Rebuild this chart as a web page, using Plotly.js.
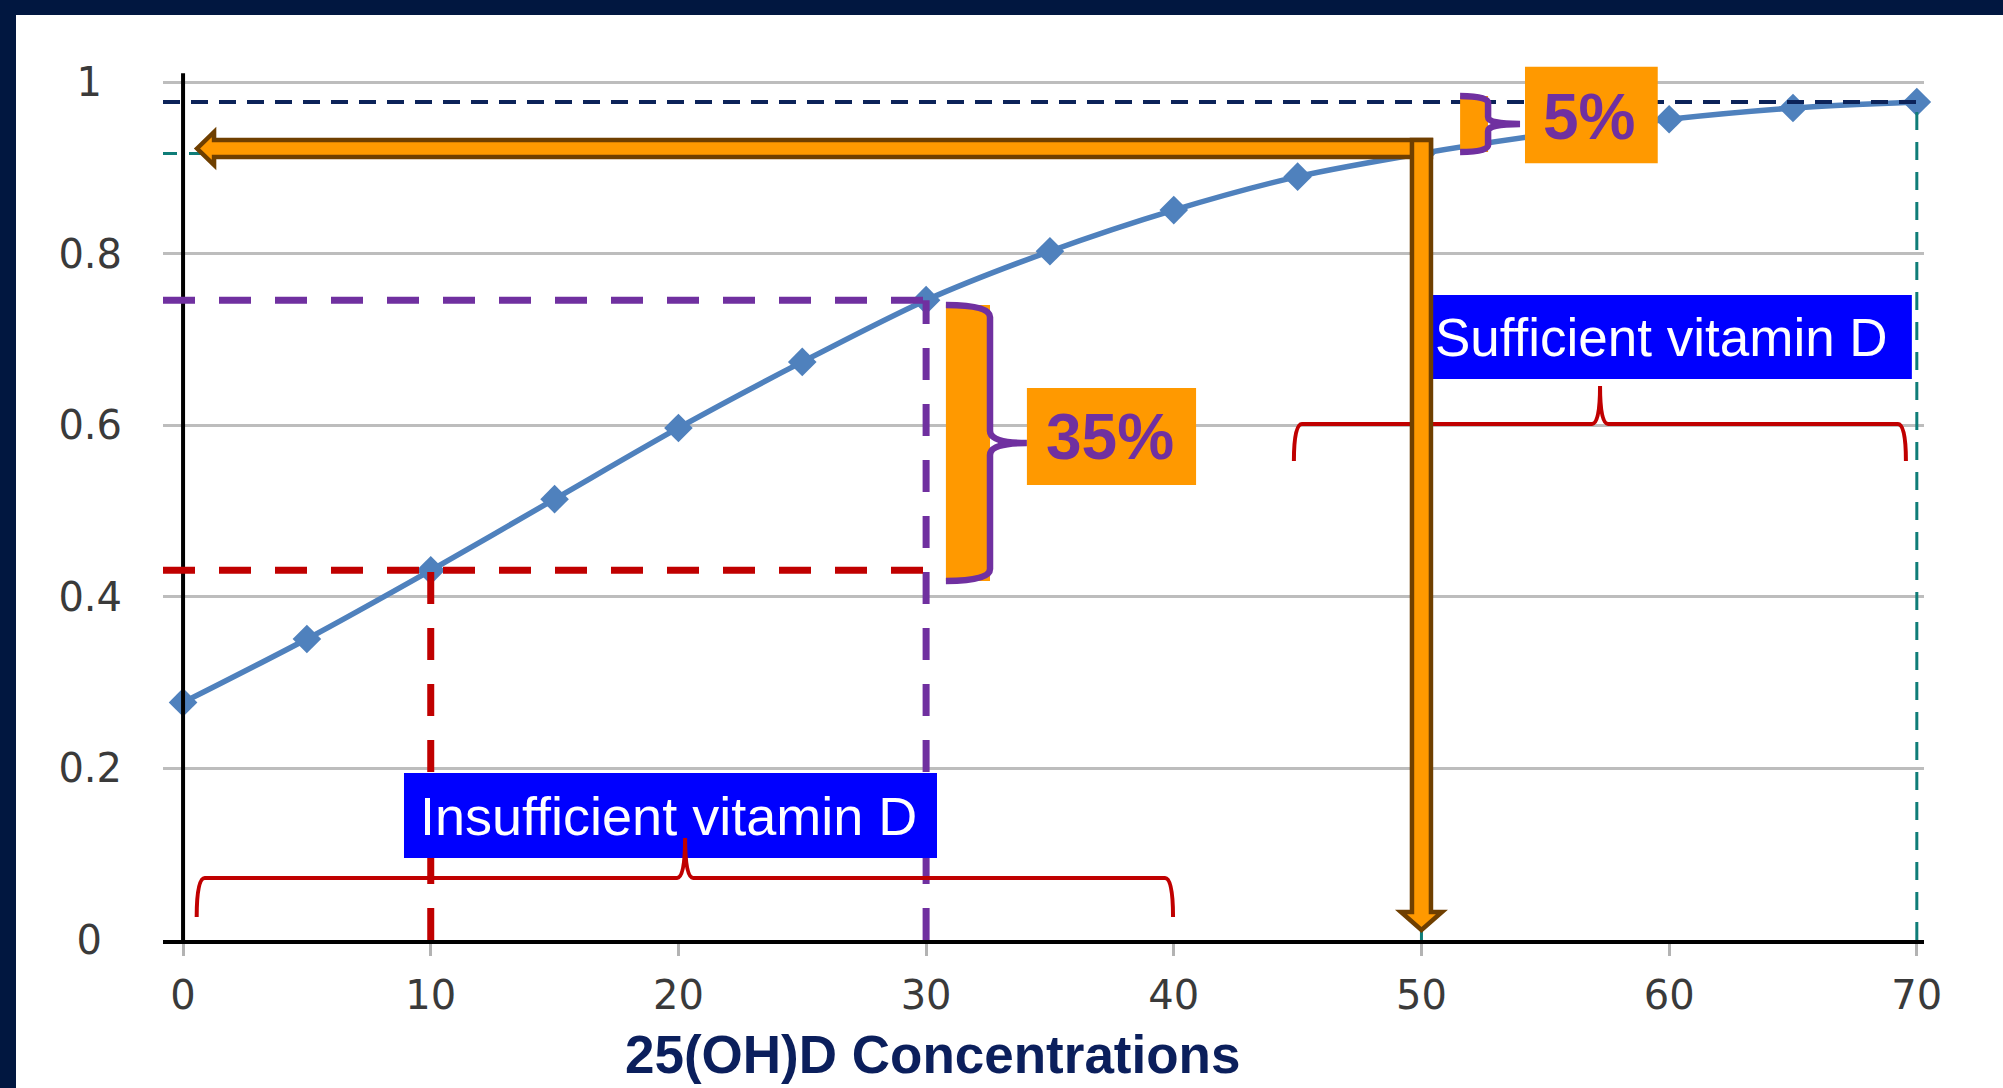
<!DOCTYPE html>
<html><head><meta charset="utf-8">
<script src="https://cdn.plot.ly/plotly-3.0.1.min.js"></script>
<style>
html,body{margin:0;padding:0;background:#011740;width:2003px;height:1088px;overflow:hidden;}
#chart{position:absolute;left:16px;top:15px;width:1987px;height:1073px;background:#fff;}
</style></head><body><div id="chart"></div>
<script>
// ---- data ----
const concentration = [0, 5, 10, 15, 20, 25, 30, 35, 40, 45, 50, 55, 60, 65, 70];
const probability   = [0.277, 0.351, 0.431, 0.514, 0.597, 0.674, 0.746, 0.803, 0.851, 0.890, 0.917, 0.939, 0.957, 0.970, 0.977];
const xTickValues = [0, 10, 20, 30, 40, 50, 60, 70];
const yTickValues = [0, 0.2, 0.4, 0.6, 0.8, 1];
const yTickLabels = ['0', '0.2', '0.4', '0.6', '0.8', '1'];
const cutLow = 10, cutMid = 30, cutHigh = 50, cutMax = 70;
const xTitle = '25(OH)D Concentrations';
const insufficientLabel = 'Insufficient vitamin D';
const sufficientLabel = 'Sufficient vitamin D';
const gapLowLabel = '35%';
const gapHighLabel = '5%';

// ---- geometry ----
const X0 = -0.81, X1 = 70.29, Y0 = 0, Y1 = 1.04;
const plotW = 1761, plotH = 892;
const dx = p => p * (X1 - X0) / plotW;
const dy = p => p * (Y1 - Y0) / plotH;
const yAt = x => probability[concentration.indexOf(x)];
const y10 = yAt(cutLow), y30 = yAt(cutMid), y50 = yAt(cutHigh), y70 = yAt(cutMax);

const C = {
  navy: '#0c2359', purple: '#7030a0', red: '#c00000', teal: '#0f7d78',
  orange: '#ff9900', brown: '#6f3f00', blue: '#0000ff', line: '#4f81bd'
};

function seg(x0, y0, x1, y1, color, width, dash) {
  return {type: 'line', xref: 'x', yref: 'y', x0, y0, x1, y1, line: {color, width, dash: dash || 'solid'}};
}
function rect(x0, y0, x1, y1, fill) {
  return {type: 'rect', xref: 'x', yref: 'y', x0, y0, x1, y1, fillcolor: fill, line: {width: 0}};
}
function path(d, color, width, fill) {
  return {type: 'path', xref: 'x', yref: 'y', path: d, fillcolor: fill || 'rgba(0,0,0,0)', line: {color, width}};
}
function rightBrace(xL, xS, xT, yT, yB, rpx) {
  const ry = dy(rpx), yM = (yT + yB) / 2;
  return `M${xL},${yT} Q${xS},${yT} ${xS},${yT - ry} L${xS},${yM + ry} Q${xS},${yM} ${xT},${yM} ` +
         `Q${xS},${yM} ${xS},${yM - ry} L${xS},${yB + ry} Q${xS},${yB} ${xL},${yB}`;
}
function upBrace(x0, x1, xc, yH, yEnd, yTip, rpx) {
  const rx = dx(rpx);
  return `M${x0},${yEnd} Q${x0},${yH} ${x0 + rx},${yH} L${xc - rx},${yH} Q${xc},${yH} ${xc},${yTip} ` +
         `Q${xc},${yH} ${xc + rx},${yH} L${x1 - rx},${yH} Q${x1},${yH} ${x1},${yEnd}`;
}

// arrows
const hs = dy(8.5), headH = dy(16.5);
const yc = y50 + dy(5);
const tipX = dx(14), baseX = tipX + dx(17), rightX = cutHigh + dx(9.5);
const hArrow = `M${tipX},${yc} L${baseX},${yc + headH} L${baseX},${yc + hs} L${rightX},${yc + hs} ` +
               `L${rightX},${yc - hs} L${baseX},${yc - hs} L${baseX},${yc - headH} Z`;
const hw = dx(9.5), headW = dx(20.5), vTop = yc + hs, vBase = dy(28), vTip = dy(10);
const vArrow = `M${cutHigh - hw},${vTop} L${cutHigh + hw},${vTop} L${cutHigh + hw},${vBase} L${cutHigh + headW},${vBase} ` +
               `L${cutHigh},${vTip} L${cutHigh - headW},${vBase} L${cutHigh - hw},${vBase} Z`;

const b35 = {xL: 30.80, xS: 32.58, xT: 34.07, yT: 0.7404, yB: 0.4186};
const b5 = {xL: 51.56, xS: 52.69, xT: 53.98, yT: 0.984, yB: 0.9187};
const box35 = {x0: 34.07, x1: 40.90, y0: 0.5305, y1: 0.6436};
const box5 = {x0: 54.18, x1: 59.54, y0: 0.9056, y1: 1.0182};
const boxSuf = {x0: 49.66, x1: 69.80, y0: 0.6541, y1: 0.7520};
const boxIns = {x0: 8.92, x1: 30.44, y0: 0.0956, y1: 0.1947};

const shapes = [
  seg(0, 0, 0, 1.0105, '#000', 4),
  seg(cutMax, 0, cutMax, y70, C.teal, 3, '18px,12px'),
  seg(cutHigh, 0, cutHigh, y50, C.teal, 3, '18px,12px'),
  seg(X0 - dx(4), y50, cutHigh, y50, C.teal, 3, '18px,12px'),
  seg(X0, y70, cutMax, y70, C.navy, 4, '17px,11px'),
  seg(X0, y30, cutMid, y30, C.purple, 7, '32px,24px'),
  seg(cutMid, 0, cutMid, y30, C.purple, 7, '32px,24px'),
  seg(X0, y10, cutMid, y10, C.red, 7, '32px,24px'),
  seg(cutLow, 0, cutLow, y10, C.red, 7, '32px,24px'),
  rect(boxIns.x0, boxIns.y0, boxIns.x1, boxIns.y1, C.blue),
  path(upBrace(0.55, 39.97, 20.27, 0.0723, 0.0268, 0.1189, 8), C.red, 4),
  rect(boxSuf.x0, boxSuf.y0, boxSuf.x1, boxSuf.y1, C.blue),
  path(upBrace(44.85, 69.56, 57.21, 0.6016, 0.5585, 0.6459, 8), C.red, 4),
  path(hArrow, C.brown, 4.5, C.orange),
  path(vArrow, C.brown, 4.5, C.orange),
  rect(b35.xL, b35.yB, b35.xS, b35.yT, C.orange),
  path(rightBrace(b35.xL, b35.xS, b35.xT, b35.yT, b35.yB, 12), C.purple, 6.5),
  rect(box35.x0, box35.y0, box35.x1, box35.y1, C.orange),
  rect(b5.xL, b5.yB, b5.xS, b5.yT, C.orange),
  path(rightBrace(b5.xL, b5.xS, b5.xT, b5.yT, b5.yB, 7), C.purple, 6.5),
  rect(box5.x0, box5.y0, box5.x1, box5.y1, C.orange)
];

const sans = 'Liberation Sans, Arial, sans-serif';
const annotations = [
  {x: (boxIns.x0 + boxIns.x1) / 2 - 0.1, y: 0.144, text: insufficientLabel, font: {family: sans, size: 54, color: '#fff'}},
  {x: (boxSuf.x0 + boxSuf.x1) / 2 - 0.05, y: 0.7025, text: sufficientLabel, font: {family: sans, size: 53, color: '#fff'}},
  {x: 37.44, y: 0.5859, text: '<b>' + gapLowLabel + '</b>', font: {family: sans, size: 64, color: C.purple}},
  {x: 56.80, y: 0.959, text: '<b>' + gapHighLabel + '</b>', font: {family: sans, size: 64, color: C.purple}},
].map(a => Object.assign({xref: 'x', yref: 'y', showarrow: false, xanchor: 'center', yanchor: 'middle'}, a));
annotations.push({xref: 'paper', yref: 'paper', x: 0.437, y: 0, yshift: -114, xanchor: 'center', yanchor: 'middle',
  showarrow: false, text: '<b>' + xTitle + '</b>', font: {family: sans, size: 53, color: '#0b1f5c'}});

// centre the y tick labels on a common column, as in the reference
const padLabel = s => s.length === 1 ? s + '\u2002' : s;
const tickFont = {family: 'DejaVu Sans, sans-serif', size: 40, color: '#3a3a3a'};
const trace = {
  type: 'scatter', mode: 'lines+markers', x: concentration, y: probability,
  line: {color: C.line, width: 5.5, shape: 'spline', smoothing: 0.8},
  marker: {symbol: 'diamond', size: 22, color: C.line}, cliponaxis: false, hoverinfo: 'skip'
};
const layout = {
  width: 1987, height: 1073,
  margin: {l: 147, r: 79, t: 33, b: 148, pad: 0},
  paper_bgcolor: '#ffffff', plot_bgcolor: '#ffffff', showlegend: false,
  xaxis: {range: [X0, X1], tickmode: 'array', tickvals: xTickValues, ticks: 'outside', ticklen: 12, tickwidth: 3,
    tickcolor: '#b3b3b3', showgrid: false, zeroline: false, showline: true, linecolor: '#000', linewidth: 4,
    tickfont: tickFont, ticklabelstandoff: 5, fixedrange: true},
  yaxis: {range: [Y0, Y1], tickmode: 'array', tickvals: yTickValues, ticktext: yTickLabels.map(padLabel), ticks: '',
    showgrid: true, gridcolor: '#bdbdbd', gridwidth: 3, zeroline: false, showline: false,
    tickfont: tickFont, ticklabelstandoff: 40, fixedrange: true},
  shapes: shapes, annotations: annotations
};
Plotly.newPlot('chart', [trace], layout, {displayModeBar: false, staticPlot: true});
</script></body></html>
